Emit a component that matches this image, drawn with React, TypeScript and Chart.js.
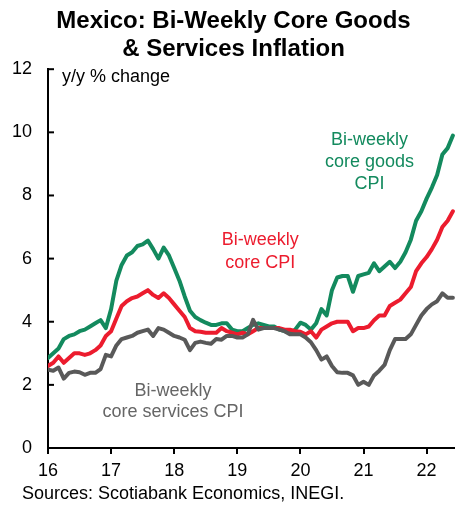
import React, { useEffect, useRef } from "react";
import { Chart, registerables } from "chart.js";

Chart.register(...registerables);

const FONT = "'Liberation Sans', Arial, Helvetica, sans-serif";

// Monthly readings starting Jan 2016 (x axis in two-digit years)
const startYear = 16;
const goods = [
  2.85, 3.0, 3.15, 3.45, 3.55, 3.6, 3.7, 3.75, 3.85, 3.95, 4.05, 3.8,
  4.4, 5.3, 5.8, 6.1, 6.2, 6.4, 6.45, 6.57, 6.3, 6.0, 6.35, 6.1,
  5.7, 5.3, 4.8, 4.35, 4.15, 4.05, 3.97, 3.9, 3.9, 3.95, 3.95, 3.75,
  3.7, 3.7, 3.8, 3.9, 3.95, 3.9, 3.85, 3.85, 3.75, 3.7, 3.65, 3.75,
  3.97, 3.9, 3.75, 3.95, 4.4, 4.2, 5.0, 5.4, 5.45, 5.45, 4.95, 5.45,
  5.5, 5.55, 5.85, 5.6, 5.75, 5.9, 5.7, 5.9, 6.2, 6.6, 7.2, 7.5,
  7.9, 8.25, 8.65, 9.3, 9.5, 9.9,
];
const core = [
  2.6, 2.7, 2.9, 2.7, 2.85, 3.0, 3.0, 2.95, 3.0, 3.1, 3.25, 3.55,
  3.7, 4.1, 4.5, 4.65, 4.75, 4.8, 4.9, 5.0, 4.85, 4.75, 4.9, 4.75,
  4.55, 4.35, 4.15, 3.8, 3.7, 3.68, 3.65, 3.65, 3.65, 3.8, 3.7, 3.65,
  3.6, 3.65, 3.6, 3.7, 3.8, 3.8, 3.8, 3.8, 3.8, 3.75, 3.75, 3.7,
  3.68, 3.6, 3.7, 3.5, 3.75, 3.85, 3.95, 4.0, 4.0, 4.0, 3.7, 3.8,
  3.8, 3.85, 4.05, 4.2, 4.2, 4.5, 4.6, 4.7, 4.9, 5.1, 5.6, 5.85,
  6.05, 6.3, 6.6, 7.0, 7.2, 7.5,
];
const services = [
  2.48, 2.45, 2.55, 2.2, 2.38, 2.42, 2.4, 2.32, 2.38, 2.38, 2.5, 2.95,
  2.9, 3.25, 3.45, 3.5, 3.55, 3.65, 3.7, 3.75, 3.55, 3.8, 3.75, 3.65,
  3.55, 3.5, 3.43, 3.1, 3.33, 3.37, 3.33, 3.3, 3.45, 3.43, 3.55, 3.55,
  3.5, 3.5, 3.6, 4.06, 3.75, 3.8, 3.8, 3.8, 3.75, 3.7, 3.6, 3.6,
  3.6, 3.5, 3.35, 3.1, 2.8, 2.9, 2.6, 2.4, 2.38, 2.38, 2.3, 2.0,
  2.1, 2.0, 2.3, 2.45, 2.63, 3.1, 3.45, 3.45, 3.45, 3.6, 3.9, 4.2,
  4.4, 4.55, 4.65, 4.9, 4.76, 4.76,
];

const titleLines = ["Mexico: Bi-Weekly Core Goods", "& Services Inflation"];
const yAxisNote = "y/y % change";
const sourceText = "Sources: Scotiabank Economics, INEGI.";
const goodsLabel = ["Bi-weekly", "core goods", "CPI"];
const coreLabel = ["Bi-weekly", "core CPI"];
const servicesLabel = ["Bi-weekly", "core services CPI"];

const GREEN = "#138a5e";
const RED = "#ec1c2e";
const GREY = "#595959";
const GREY_TEXT = "#666666";

const toPoints = (arr: number[]) =>
  arr.map((v, i) => ({ x: startYear + i / 12, y: v }));

const decorPlugin = {
  id: "decor",
  afterDraw(chart: any) {
    const { ctx, chartArea } = chart;
    const xs = chart.scales.x;
    const ys = chart.scales.y;
    ctx.save();
    // inward y ticks
    ctx.strokeStyle = "#000";
    ctx.lineWidth = 2;
    ys.ticks.forEach((t: any) => {
      const py = ys.getPixelForValue(t.value);
      ctx.beginPath();
      ctx.moveTo(chartArea.left, py);
      ctx.lineTo(chartArea.left + 6, py);
      ctx.stroke();
    });
    ctx.font = `18px ${FONT}`;
    ctx.textBaseline = "middle";
    // y axis note
    ctx.fillStyle = "#000";
    ctx.textAlign = "left";
    ctx.fillText(yAxisNote, chartArea.left + 14, ys.getPixelForValue(11.75));
    // series labels
    const drawLabel = (lines: string[], xv: number, yv: number, color: string, step: number) => {
      ctx.fillStyle = color;
      ctx.textAlign = "center";
      const px = xs.getPixelForValue(xv);
      const py = ys.getPixelForValue(yv);
      lines.forEach((l, i) => ctx.fillText(l, px, py + i * step));
    };
    drawLabel(goodsLabel, 21.095, 9.76, GREEN, 22);
    drawLabel(coreLabel, 19.365, 6.6, RED, 23);
    drawLabel(servicesLabel, 17.98, 1.8, GREY_TEXT, 21);
    // source
    ctx.fillStyle = "#000";
    ctx.textAlign = "left";
    ctx.fillText(sourceText, 22, 494);
    ctx.restore();
  },
};

export default function App() {
  const ref = useRef<HTMLCanvasElement | null>(null);
  useEffect(() => {
    if (!ref.current) return;
    const chart = new Chart(ref.current, {
      type: "line",
      data: {
        datasets: [
          { label: "services", data: toPoints(services), borderColor: GREY, order: 0 },
          { label: "core", data: toPoints(core), borderColor: RED, order: 1 },
          { label: "goods", data: toPoints(goods), borderColor: GREEN, order: 2 },
        ].map((d) => ({
          ...d,
          borderWidth: 4,
          pointRadius: 0,
          tension: 0,
          fill: false,
          borderJoinStyle: "round" as const,
          borderCapStyle: "round" as const,
        })),
      },
      options: {
        animation: false,
        responsive: false,
        devicePixelRatio: 1,
        layout: { padding: { left: 12, right: 0, top: 0, bottom: 27 } },
        plugins: {
          legend: { display: false },
          tooltip: { enabled: false },
          title: {
            display: true,
            text: titleLines,
            color: "#000",
            font: { family: FONT, size: 24, weight: "bold", lineHeight: 1.15 },
            padding: { top: 8, bottom: 6 },
          },
        },
        scales: {
          x: {
            type: "linear",
            min: 16,
            max: 22.45,
            afterFit: (s: any) => {
              s.height = 30;
            },
            ticks: {
              stepSize: 1,
              includeBounds: false,
              color: "#000",
              font: { family: FONT, size: 18 },
              padding: 6,
              maxRotation: 0,
              callback: (v: any) => String(v),
            },
            grid: {
              display: true,
              drawOnChartArea: false,
              drawTicks: true,
              tickLength: 6,
              color: "#000",
              lineWidth: 2,
            },
            border: { display: true, color: "#000", width: 2 },
          },
          y: {
            min: 0,
            max: 12,
            afterFit: (s: any) => {
              s.width = 36;
            },
            ticks: {
              stepSize: 2,
              color: "#000",
              font: { family: FONT, size: 18 },
              padding: 16,
            },
            grid: { display: false, drawTicks: false },
            border: { display: true, color: "#000", width: 2 },
          },
        },
      },
      plugins: [decorPlugin],
    });
    return () => chart.destroy();
  }, []);
  return (
    <div style={{ position: "absolute", left: 0, top: 0, width: 455, height: 505, background: "#fff" }}>
      <canvas ref={ref} width={455} height={505} />
    </div>
  );
}
